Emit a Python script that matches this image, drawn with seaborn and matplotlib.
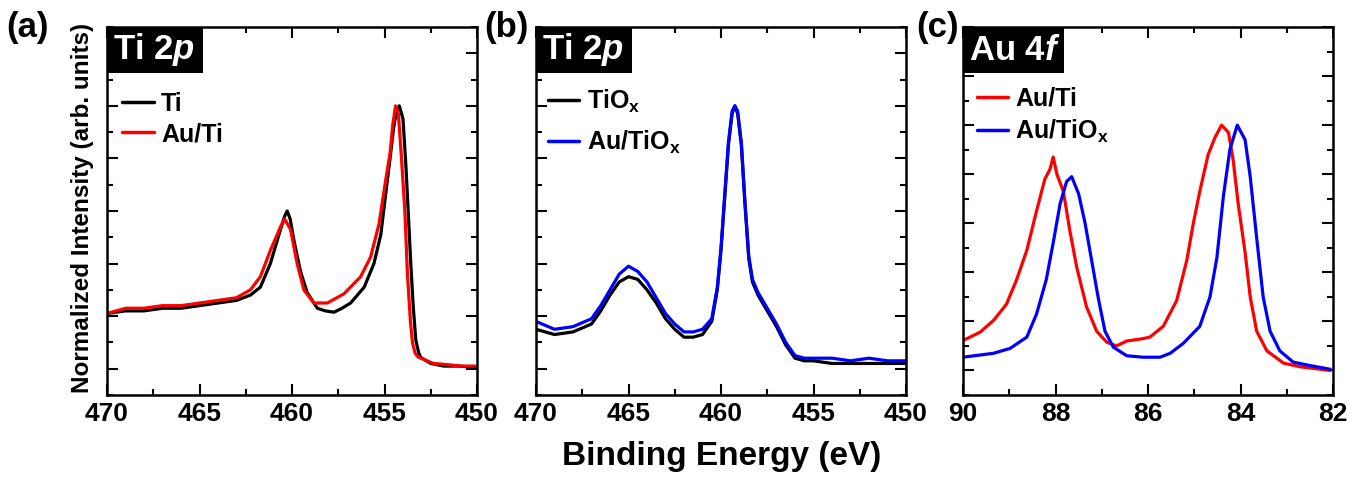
import matplotlib
matplotlib.use('Agg')
import matplotlib.pyplot as plt
from matplotlib.patches import Rectangle
from matplotlib.ticker import MultipleLocator
import seaborn as sns
import pandas as pd

# ---- values (binding energy in eV, normalized intensity) ----
# (a) Ti 2p
ti_E = [470, 469, 468, 467, 466, 465, 464, 463, 462.25, 461.71, 461.17, 460.62, 460.4, 460.26,
        460.1, 459.9, 459.54, 459.18, 458.63, 458.2, 457.73, 457.3, 456.83, 456.1, 455.57, 455.2,
        454.84, 454.7, 454.5, 454.35, 454.2, 454.0, 453.85, 453.72, 453.58, 453.45, 453.31,
        453.15, 453.04, 452.5, 451.8, 451, 450.1]
ti_I = [0.21, 0.22, 0.22, 0.23, 0.23, 0.24, 0.25, 0.26, 0.28, 0.31, 0.40, 0.53, 0.58, 0.60,
        0.57, 0.49, 0.37, 0.29, 0.23, 0.22, 0.215, 0.23, 0.25, 0.31, 0.40, 0.51,
        0.72, 0.80, 0.92, 0.98, 1.00, 0.95, 0.78, 0.60, 0.40, 0.24, 0.11,
        0.06, 0.043, 0.02, 0.01, 0.01, 0.005]
auti_E = [470, 469, 468, 467, 466, 465, 464, 463, 462.25, 461.71, 461.17, 460.62, 460.4, 460.08,
          459.72, 459.36, 458.82, 458.09, 457.19, 456.29, 455.75, 455.3, 454.93, 454.7, 454.55,
          454.4, 454.25, 454.1, 453.9, 453.76, 453.6, 453.49, 453.35, 453.2, 452.36, 451.5,
          450.9, 450.1]
auti_I = [0.21, 0.23, 0.23, 0.24, 0.24, 0.25, 0.26, 0.27, 0.30, 0.35, 0.45, 0.54, 0.57, 0.53,
          0.40, 0.30, 0.25, 0.25, 0.285, 0.35, 0.425, 0.55, 0.72, 0.82, 0.93,
          1.00, 0.97, 0.82, 0.60, 0.36, 0.18, 0.10, 0.06, 0.045, 0.02, 0.015,
          0.01, 0.01]

# (b) Ti 2p
tiox_E = [470, 469, 468, 467, 466.5, 466, 465.5, 465, 464.5, 464, 463.5, 463, 462.5, 462, 461.5,
          461, 460.5, 460.2, 460.0, 459.8, 459.6, 459.4, 459.25, 459.1, 458.9, 458.7, 458.5,
          458.3, 458, 457.5, 457, 456.5, 456, 455.5, 455, 454, 453, 452, 451, 450]
tiox_I = [0.15, 0.13, 0.14, 0.17, 0.22, 0.28, 0.33, 0.35, 0.34, 0.30, 0.25, 0.19, 0.15, 0.12, 0.12,
          0.13, 0.18, 0.30, 0.45, 0.65, 0.85, 0.97, 1.00, 0.97, 0.85, 0.62, 0.42,
          0.33, 0.28, 0.22, 0.16, 0.09, 0.04, 0.03, 0.03, 0.02, 0.02, 0.02, 0.02, 0.02]
autiox_E = tiox_E
autiox_I = [0.18, 0.15, 0.16, 0.19, 0.24, 0.30, 0.36, 0.39, 0.37, 0.33, 0.27, 0.21, 0.17, 0.14, 0.14,
            0.15, 0.19, 0.31, 0.46, 0.66, 0.86, 0.98, 1.00, 0.98, 0.86, 0.63, 0.43,
            0.34, 0.29, 0.23, 0.17, 0.10, 0.05, 0.04, 0.04, 0.04, 0.03, 0.04, 0.03, 0.03]

# (c) Au 4f
au_ti_E = [90, 89.63, 89.34, 89.06, 88.84, 88.62, 88.41, 88.23, 88.12, 88.05, 87.97, 87.83,
           87.69, 87.54, 87.33, 87.11, 86.89, 86.68, 86.46, 86.1, 85.96, 85.67, 85.38, 85.16,
           85.02, 84.88, 84.7, 84.55, 84.41, 84.26, 84.16, 84.05, 83.9, 83.79, 83.65, 83.43,
           83.07, 82.71, 82.06]
au_ti_I = [0.122, 0.156, 0.204, 0.27, 0.37, 0.49, 0.65, 0.78, 0.82, 0.87, 0.80, 0.73,
           0.57, 0.42, 0.26, 0.16, 0.115, 0.10, 0.12, 0.13, 0.136, 0.18, 0.285, 0.45,
           0.60, 0.73, 0.88, 0.95, 1.00, 0.97, 0.86, 0.68, 0.48, 0.30, 0.16, 0.08,
           0.03, 0.015, 0.0]
au_tiox_E = [90, 89.34, 88.98, 88.62, 88.41, 88.2, 88.05, 87.9, 87.76, 87.65, 87.5, 87.36,
             87.22, 87.07, 86.93, 86.75, 86.46, 86.1, 85.74, 85.52, 85.24, 84.88, 84.66,
             84.51, 84.37, 84.23, 84.07, 83.9, 83.79, 83.65, 83.51, 83.36, 83.15, 82.86,
             82.5, 82.06]
au_tiox_I = [0.054, 0.07, 0.09, 0.136, 0.23, 0.37, 0.52, 0.68, 0.77, 0.79, 0.72, 0.60,
             0.45, 0.29, 0.16, 0.095, 0.06, 0.054, 0.054, 0.07, 0.11, 0.18, 0.30,
             0.46, 0.71, 0.90, 1.00, 0.94, 0.79, 0.54, 0.30, 0.16, 0.08, 0.034,
             0.02, 0.005]

sub_x = '$_\\mathregular{x}$'
panels = [
    dict(tag='(a)', title='Ti 2$\\mathit{p}$', xlim=(470, 450), ylim=(-0.1, 1.3), major=5, minor=2.5,
         series=[(ti_E, ti_I, 'black', 'Ti'), (auti_E, auti_I, '#ff0000', 'Au/Ti')],
         leg=(-0.019, 0.885), spacing=0.25, boxw=96),
    dict(tag='(b)', title='Ti 2$\\mathit{p}$', xlim=(470, 450), ylim=(-0.1, 1.3), major=5, minor=2.5,
         series=[(tiox_E, tiox_I, 'black', 'TiO' + sub_x),
                 (autiox_E, autiox_I, '#0000ff', 'Au/TiO' + sub_x)],
         leg=(-0.029, 0.895), spacing=0.55, boxw=96),
    dict(tag='(c)', title='Au 4$\\mathit{f}$', xlim=(90, 82), ylim=(-0.1, 1.4), major=2, minor=1,
         series=[(au_ti_E, au_ti_I, '#ff0000', 'Au/Ti'),
                 (au_tiox_E, au_tiox_I, '#0000ff', 'Au/TiO' + sub_x)],
         leg=(-0.024, 0.9), spacing=0.3, boxw=101),
]

sns.set_style('ticks')
plt.rcParams['font.family'] = ['Liberation Sans', 'DejaVu Sans']
plt.rcParams['font.weight'] = 'bold'
plt.rcParams['mathtext.fontset'] = 'custom'
plt.rcParams['mathtext.rm'] = 'Liberation Sans:bold'
plt.rcParams['mathtext.it'] = 'Liberation Sans:bold:italic'
plt.rcParams['mathtext.bf'] = 'Liberation Sans:bold'
for k in ['text.color', 'axes.edgecolor', 'axes.labelcolor', 'xtick.color', 'ytick.color']:
    plt.rcParams[k] = 'black'

fig = plt.figure(figsize=(13.63, 4.78), dpi=100)
lefts = [107, 536, 963]
tag_x = [6, 484, 916]
ax_w, ax_h = 370, 368

for p, left, tx in zip(panels, lefts, tag_x):
    ax = fig.add_axes([left / 1363, 1 - 395 / 478, ax_w / 1363, ax_h / 478])
    for E, I, col, lab in p['series']:
        df = pd.DataFrame({'E': E, 'I': I})
        sns.lineplot(data=df, x='E', y='I', ax=ax, color=col, lw=2.3, label=lab)
    ax.set_xlim(*p['xlim'])
    ax.set_ylim(*p['ylim'])
    ax.xaxis.set_major_locator(MultipleLocator(p['major']))
    ax.xaxis.set_minor_locator(MultipleLocator(p['minor']))
    ax.yaxis.set_major_locator(MultipleLocator(0.2))
    ax.yaxis.set_minor_locator(MultipleLocator(0.1))
    ax.set_yticklabels([])
    ax.set_xlabel('')
    ax.set_ylabel('')
    ax.tick_params(which='both', direction='in', top=True, right=True, width=1.5)
    ax.tick_params(which='major', length=8)
    ax.tick_params(which='minor', length=4.5)
    ax.tick_params(axis='x', labelsize=19, pad=5)
    for s in ax.spines.values():
        s.set_linewidth(1.8)

    # black title box in the top-left corner
    bw, bh = p['boxw'] / ax_w, 46 / ax_h
    ax.add_patch(Rectangle((0, 1 - bh), bw, bh, transform=ax.transAxes,
                           facecolor='black', edgecolor='none', clip_on=False, zorder=5))
    ax.text(6 / ax_w, 1 - bh / 2, p['title'], transform=ax.transAxes, ha='left', va='center',
            color='white', fontsize=25, fontweight='bold', zorder=6)

    leg = ax.legend(loc='upper left', bbox_to_anchor=p['leg'], frameon=False,
                    handlelength=1.25, handletextpad=0.3, labelspacing=p['spacing'],
                    prop={'size': 18, 'weight': 'bold'})
    for h in leg.get_lines():
        h.set_linewidth(2.5)
    fig.text(tx / 1363, 1 - 28 / 478, p['tag'], fontsize=25, fontweight='bold',
             ha='left', va='center')

fig.text(83 / 1363, 1 - 208 / 478, 'Normalized Intensity (arb. units)', rotation=90,
         ha='center', va='center', fontsize=17.5, fontweight='bold')
fig.text(722 / 1363, 1 - 457 / 478, 'Binding Energy (eV)', ha='center', va='center',
         fontsize=24, fontweight='bold')

fig.savefig('out.png', dpi=100)
